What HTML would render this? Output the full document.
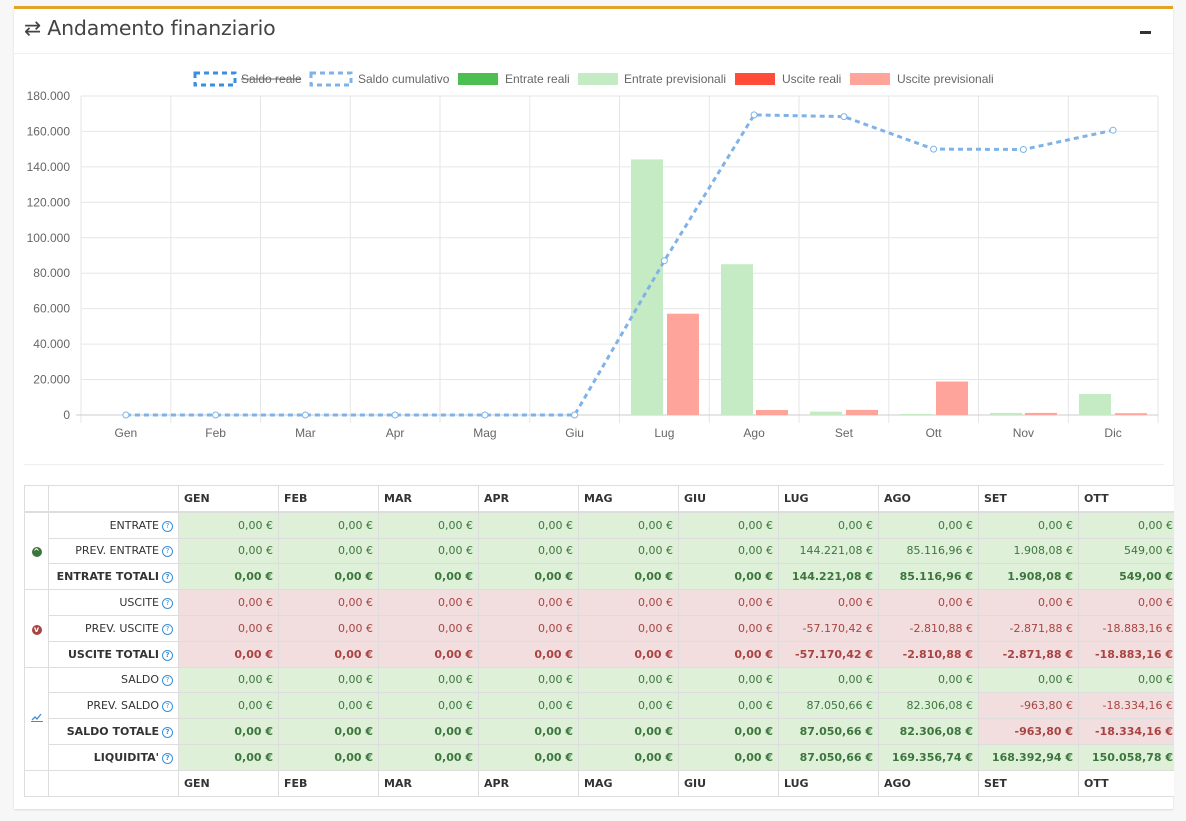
<!DOCTYPE html>
<html><head><meta charset="utf-8"><style>
html,body{margin:0;padding:0;width:1186px;height:821px;overflow:hidden;background:#f7f7f7;}
.panel{position:absolute;left:14px;top:6px;width:1159px;height:800px;background:#fff;border-top:3px solid #e3a325;box-shadow:0 1px 2px rgba(0,0,0,.12);}
.hdr{position:absolute;left:0;top:0;width:1159px;height:44px;border-bottom:1px solid #f0f0f0;}
.title{position:absolute;left:10px;top:7px;font:20.5px "DejaVu Sans","Liberation Sans",sans-serif;color:#444;letter-spacing:-0.2px;}
.minus{position:absolute;left:1126px;top:22px;width:11px;height:3px;background:#333;}
.sep{position:absolute;height:1px;background:#eee;}
.tw{position:absolute;overflow:hidden;}
table{border-collapse:collapse;table-layout:fixed;font:11px "DejaVu Sans",sans-serif;color:#333;}
td,th{border:1px solid #ddd;height:24.8px;padding:0 5px;white-space:nowrap;overflow:hidden;}
th{text-align:left;font-weight:bold;background:#fff;}
thead th{border-bottom:2px solid #ddd;}
td.l{text-align:right;}
td.n{text-align:right;}
.g{background:#dff0d8;color:#3c763d;}
.r{background:#f2dede;color:#a94442;}
.b{font-weight:bold;}
.q{display:inline-block;width:9px;height:9px;border:1px solid #3a8fd9;border-radius:50%;font-size:7px;line-height:9px;text-align:center;color:#3a8fd9;vertical-align:1px;margin-left:3px;}
.ic{text-align:center;padding:0;}
.ci{display:inline-block;width:10px;height:10px;border-radius:50%;color:#fff;font-size:8px;line-height:10px;text-align:center;font-weight:bold;}
</style></head><body>
<div class="panel">
<div class="hdr"><div class="title">⇄ Andamento finanziario</div><div class="minus"></div></div>
</div>
<svg width="1186" height="470" style="position:absolute;left:0;top:0" font-family="Liberation Sans, sans-serif" font-size="12">
<g stroke="#e6e6e6" stroke-width="1">
<line x1="81" y1="96" x2="1158" y2="96"/><line x1="81" y1="131.4" x2="1158" y2="131.4"/><line x1="81" y1="166.9" x2="1158" y2="166.9"/><line x1="81" y1="202.3" x2="1158" y2="202.3"/><line x1="81" y1="237.8" x2="1158" y2="237.8"/><line x1="81" y1="273.2" x2="1158" y2="273.2"/><line x1="81" y1="308.6" x2="1158" y2="308.6"/><line x1="81" y1="344.1" x2="1158" y2="344.1"/><line x1="81" y1="379.5" x2="1158" y2="379.5"/>
<line x1="81" y1="96" x2="81" y2="423"/><line x1="170.8" y1="96" x2="170.8" y2="423"/><line x1="260.5" y1="96" x2="260.5" y2="423"/><line x1="350.3" y1="96" x2="350.3" y2="423"/><line x1="440" y1="96" x2="440" y2="423"/><line x1="529.8" y1="96" x2="529.8" y2="423"/><line x1="619.5" y1="96" x2="619.5" y2="423"/><line x1="709.3" y1="96" x2="709.3" y2="423"/><line x1="799" y1="96" x2="799" y2="423"/><line x1="888.8" y1="96" x2="888.8" y2="423"/><line x1="978.5" y1="96" x2="978.5" y2="423"/><line x1="1068.3" y1="96" x2="1068.3" y2="423"/><line x1="1158" y1="96" x2="1158" y2="423"/>
<line x1="76" y1="415" x2="1158" y2="415" stroke="#ccc"/>
</g>
<g fill="#666" text-anchor="end">
<text x="70" y="100">180.000</text><text x="70" y="135.4">160.000</text><text x="70" y="170.9">140.000</text><text x="70" y="206.3">120.000</text><text x="70" y="241.8">100.000</text><text x="70" y="277.2">80.000</text><text x="70" y="312.6">60.000</text><text x="70" y="348.1">40.000</text><text x="70" y="383.5">20.000</text><text x="70" y="419">0</text>
</g>
<g fill="#666" text-anchor="middle">
<text x="125.9" y="437">Gen</text><text x="215.6" y="437">Feb</text><text x="305.4" y="437">Mar</text><text x="395.1" y="437">Apr</text><text x="484.9" y="437">Mag</text><text x="574.6" y="437">Giu</text><text x="664.4" y="437">Lug</text><text x="754.1" y="437">Ago</text><text x="843.9" y="437">Set</text><text x="933.6" y="437">Ott</text><text x="1023.4" y="437">Nov</text><text x="1113.1" y="437">Dic</text>
</g>
<g fill="#c5ebc5">
<rect x="631" y="159.4" width="32" height="255.6"/><rect x="721" y="264.2" width="32" height="150.8"/><rect x="810" y="411.6" width="32" height="3.4"/><rect x="900" y="414" width="32" height="1"/><rect x="990" y="412.9" width="32" height="2.1"/><rect x="1079" y="394" width="32" height="21"/>
</g>
<g fill="#ffa49a">
<rect x="667" y="313.7" width="32" height="101.3"/><rect x="756" y="410" width="32" height="5"/><rect x="846" y="409.9" width="32" height="5.1"/><rect x="936" y="381.5" width="32" height="33.5"/><rect x="1025" y="412.9" width="32" height="2.1"/><rect x="1115" y="413.2" width="32" height="1.8"/>
</g>
<polyline fill="none" stroke="#7fb3e8" stroke-width="3" stroke-dasharray="5,4" points="125.9,415 215.6,415 305.4,415 395.1,415 484.9,415 574.6,415 664.4,260.7 754.1,114.9 843.9,116.6 933.6,149.1 1023.4,149.5 1113.1,130.2"/>
<g fill="#fff" stroke="#7fb3e8" stroke-width="1">
<circle cx="125.9" cy="415" r="3"/><circle cx="215.6" cy="415" r="3"/><circle cx="305.4" cy="415" r="3"/><circle cx="395.1" cy="415" r="3"/><circle cx="484.9" cy="415" r="3"/><circle cx="574.6" cy="415" r="3"/><circle cx="664.4" cy="260.7" r="3"/><circle cx="754.1" cy="114.9" r="3"/><circle cx="843.9" cy="116.6" r="3"/><circle cx="933.6" cy="149.1" r="3"/><circle cx="1023.4" cy="149.5" r="3"/><circle cx="1113.1" cy="130.2" r="3"/>
</g>
<g font-size="12" fill="#666">
<rect x="195" y="73" width="40" height="12" fill="none" stroke="#3a8fe0" stroke-width="3" stroke-dasharray="5,4"/>
<text x="241" y="83">Saldo reale</text><line x1="241" y1="79" x2="301" y2="79" stroke="#666" stroke-width="1"/>
<rect x="311" y="73" width="40" height="12" fill="none" stroke="#7fb3e8" stroke-width="3" stroke-dasharray="5,4"/>
<text x="358" y="83">Saldo cumulativo</text>
<rect x="458" y="73" width="40" height="12" fill="#4cbf50"/><text x="505" y="83">Entrate reali</text>
<rect x="578" y="73" width="40" height="12" fill="#c5ebc5"/><text x="624" y="83">Entrate previsionali</text>
<rect x="735" y="73" width="40" height="12" fill="#ff4b3a"/><text x="782" y="83">Uscite reali</text>
<rect x="850" y="73" width="40" height="12" fill="#ffa49a"/><text x="897" y="83">Uscite previsionali</text>
</g>
</svg>
<div class="sep" style="left:24px;top:464px;width:1140px;"></div>
<div class="tw" style="left:24px;top:485px;width:1150px;height:314px;">
<table style="width:1254px">
<colgroup><col style="width:24px"><col style="width:130px"><col style="width:100px"><col style="width:100px"><col style="width:100px"><col style="width:100px"><col style="width:100px"><col style="width:100px"><col style="width:100px"><col style="width:100px"><col style="width:100px"><col style="width:100px"><col style="width:100px"></colgroup>
<thead><tr><th></th><th></th><th>GEN</th><th>FEB</th><th>MAR</th><th>APR</th><th>MAG</th><th>GIU</th><th>LUG</th><th>AGO</th><th>SET</th><th>OTT</th><th>NOV</th></tr></thead>
<tbody>
<tr><td class="ic" rowspan="3"><span class="ci" style="background:#3c763d">^</span></td><td class="l">ENTRATE<span class="q">?</span></td><td class="n g">0,00 €</td><td class="n g">0,00 €</td><td class="n g">0,00 €</td><td class="n g">0,00 €</td><td class="n g">0,00 €</td><td class="n g">0,00 €</td><td class="n g">0,00 €</td><td class="n g">0,00 €</td><td class="n g">0,00 €</td><td class="n g">0,00 €</td><td class="n g">0,00 €</td></tr>
<tr><td class="l">PREV. ENTRATE<span class="q">?</span></td><td class="n g">0,00 €</td><td class="n g">0,00 €</td><td class="n g">0,00 €</td><td class="n g">0,00 €</td><td class="n g">0,00 €</td><td class="n g">0,00 €</td><td class="n g">144.221,08 €</td><td class="n g">85.116,96 €</td><td class="n g">1.908,08 €</td><td class="n g">549,00 €</td><td class="n g">0,00 €</td></tr>
<tr class="b"><td class="l">ENTRATE TOTALI<span class="q">?</span></td><td class="n g">0,00 €</td><td class="n g">0,00 €</td><td class="n g">0,00 €</td><td class="n g">0,00 €</td><td class="n g">0,00 €</td><td class="n g">0,00 €</td><td class="n g">144.221,08 €</td><td class="n g">85.116,96 €</td><td class="n g">1.908,08 €</td><td class="n g">549,00 €</td><td class="n g">0,00 €</td></tr>
<tr><td class="ic" rowspan="3"><span class="ci" style="background:#a94442">v</span></td><td class="l">USCITE<span class="q">?</span></td><td class="n r">0,00 €</td><td class="n r">0,00 €</td><td class="n r">0,00 €</td><td class="n r">0,00 €</td><td class="n r">0,00 €</td><td class="n r">0,00 €</td><td class="n r">0,00 €</td><td class="n r">0,00 €</td><td class="n r">0,00 €</td><td class="n r">0,00 €</td><td class="n r">0,00 €</td></tr>
<tr><td class="l">PREV. USCITE<span class="q">?</span></td><td class="n r">0,00 €</td><td class="n r">0,00 €</td><td class="n r">0,00 €</td><td class="n r">0,00 €</td><td class="n r">0,00 €</td><td class="n r">0,00 €</td><td class="n r">-57.170,42 €</td><td class="n r">-2.810,88 €</td><td class="n r">-2.871,88 €</td><td class="n r">-18.883,16 €</td><td class="n r">0,00 €</td></tr>
<tr class="b"><td class="l">USCITE TOTALI<span class="q">?</span></td><td class="n r">0,00 €</td><td class="n r">0,00 €</td><td class="n r">0,00 €</td><td class="n r">0,00 €</td><td class="n r">0,00 €</td><td class="n r">0,00 €</td><td class="n r">-57.170,42 €</td><td class="n r">-2.810,88 €</td><td class="n r">-2.871,88 €</td><td class="n r">-18.883,16 €</td><td class="n r">0,00 €</td></tr>
<tr><td class="ic" rowspan="4"><svg width="12" height="10"><polyline points="1,8 4,5 6,7 10,2" fill="none" stroke="#3a8fd9" stroke-width="1.3"/><line x1="0" y1="9.5" x2="12" y2="9.5" stroke="#3a8fd9"/></svg></td><td class="l">SALDO<span class="q">?</span></td><td class="n g">0,00 €</td><td class="n g">0,00 €</td><td class="n g">0,00 €</td><td class="n g">0,00 €</td><td class="n g">0,00 €</td><td class="n g">0,00 €</td><td class="n g">0,00 €</td><td class="n g">0,00 €</td><td class="n g">0,00 €</td><td class="n g">0,00 €</td><td class="n g">0,00 €</td></tr>
<tr><td class="l">PREV. SALDO<span class="q">?</span></td><td class="n g">0,00 €</td><td class="n g">0,00 €</td><td class="n g">0,00 €</td><td class="n g">0,00 €</td><td class="n g">0,00 €</td><td class="n g">0,00 €</td><td class="n g">87.050,66 €</td><td class="n g">82.306,08 €</td><td class="n r">-963,80 €</td><td class="n r">-18.334,16 €</td><td class="n g">0,00 €</td></tr>
<tr class="b"><td class="l">SALDO TOTALE<span class="q">?</span></td><td class="n g">0,00 €</td><td class="n g">0,00 €</td><td class="n g">0,00 €</td><td class="n g">0,00 €</td><td class="n g">0,00 €</td><td class="n g">0,00 €</td><td class="n g">87.050,66 €</td><td class="n g">82.306,08 €</td><td class="n r">-963,80 €</td><td class="n r">-18.334,16 €</td><td class="n g">0,00 €</td></tr>
<tr class="b"><td class="l">LIQUIDITA'<span class="q">?</span></td><td class="n g">0,00 €</td><td class="n g">0,00 €</td><td class="n g">0,00 €</td><td class="n g">0,00 €</td><td class="n g">0,00 €</td><td class="n g">0,00 €</td><td class="n g">87.050,66 €</td><td class="n g">169.356,74 €</td><td class="n g">168.392,94 €</td><td class="n g">150.058,78 €</td><td class="n g">0,00 €</td></tr>
<tr><th></th><th></th><th>GEN</th><th>FEB</th><th>MAR</th><th>APR</th><th>MAG</th><th>GIU</th><th>LUG</th><th>AGO</th><th>SET</th><th>OTT</th><th>NOV</th></tr>
</tbody></table>
</div>
</body></html>
